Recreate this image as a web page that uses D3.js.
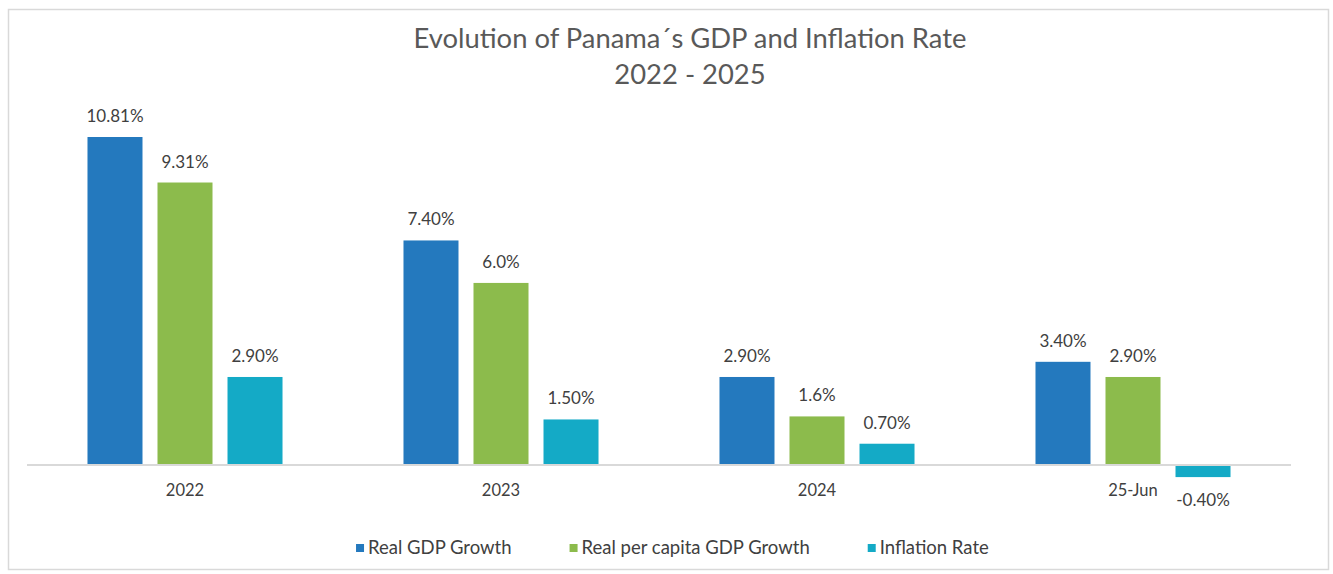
<!DOCTYPE html>
<html>
<head>
<meta charset="utf-8">
<script src="https://cdn.jsdelivr.net/npm/d3@7"></script>
<style>
  html, body { margin: 0; padding: 0; background: #ffffff; }
  svg { display: block; font-family: Lato, "Open Sans", sans-serif; }
</style>
</head>
<body>
<svg id="chart" width="1333" height="574"></svg>
<script>
// Categories and series
const categories = ["2022", "2023", "2024", "25-Jun"];
const seriesNames = ["Real GDP Growth", "Real per capita GDP Growth", "Inflation Rate"];
const seriesColors = ["#2479BE", "#8CBB4C", "#14AAC6"];

// Values in percent
const realGdpGrowth = [10.81, 7.40, 2.90, 3.40];
const perCapitaGrowth = [9.31, 6.0, 1.6, 2.90];
const inflationRate = [2.90, 1.50, 0.70, -0.40];

// Decimal places shown on each value label
const realGdpDecimals = [2, 2, 2, 2];
const perCapitaDecimals = [2, 1, 1, 2];
const inflationDecimals = [2, 2, 2, 2];

const titleLines = ["Evolution of Panama\u00b4s GDP and Inflation Rate", "2022 - 2025"];

const seriesValues = [realGdpGrowth, perCapitaGrowth, inflationRate];
const seriesDecimals = [realGdpDecimals, perCapitaDecimals, inflationDecimals];

const rows = [];
categories.forEach((cat, i) => {
  seriesNames.forEach((s, j) => {
    rows.push({ cat, series: s, si: j, value: seriesValues[j][i], dec: seriesDecimals[j][i] });
  });
});

const svg = d3.select("#chart");

// Chart frame
svg.append("rect")
  .attr("x", 8.5).attr("y", 9.5)
  .attr("width", 1320).attr("height", 560)
  .attr("fill", "#ffffff")
  .attr("stroke", "#d9d9d9")
  .attr("stroke-width", 1.5);

// Title
const title = svg.append("text")
  .attr("text-anchor", "middle")
  .attr("fill", "#595959")
  .attr("font-size", 27.4);
titleLines.forEach((t, i) => {
  title.append("tspan").attr("x", 690).attr("y", 48 + i * 36).text(t);
});

// Scales
const x0 = d3.scaleBand().domain(categories).range([27, 1291]).paddingInner(0).paddingOuter(0);
const x1 = d3.scaleBand().domain(seriesNames).range([0, x0.bandwidth()])
  .paddingInner(15 / 70).paddingOuter(0.864);
const y = d3.scaleLinear().domain([-1, 12]).range([495.3, 100.9]);
const color = d3.scaleOrdinal().domain(seriesNames).range(seriesColors);

// Percent label with a plain hyphen for negatives
const fmt = (v, d) => d3.format("." + d + "f")(v).replace("\u2212", "-") + "%";

// Bars
svg.append("g").selectAll("rect")
  .data(rows)
  .join("rect")
  .attr("x", d => x0(d.cat) + x1(d.series))
  .attr("width", x1.bandwidth())
  .attr("y", d => y(Math.max(0, d.value)))
  .attr("height", d => Math.abs(y(d.value) - y(0)))
  .attr("fill", d => color(d.series));

// Zero line
svg.append("line")
  .attr("x1", x0.range()[0]).attr("x2", x0.range()[1])
  .attr("y1", y(0)).attr("y2", y(0))
  .attr("stroke", "#d9d9d9").attr("stroke-width", 2);

// Category axis labels
const xAxis = d3.axisBottom(x0).tickSize(0).tickPadding(0);
const axisG = svg.append("g").attr("transform", `translate(0,${y(0)})`).call(xAxis);
axisG.select(".domain").remove();
axisG.selectAll("text")
  .attr("dy", null)
  .attr("y", 31)
  .attr("fill", "#404040")
  .attr("font-size", 16.5)
  .attr("font-family", "Lato, 'Open Sans', sans-serif");

// Value labels
svg.append("g").selectAll("text")
  .data(rows)
  .join("text")
  .attr("x", d => x0(d.cat) + x1(d.series) + x1.bandwidth() / 2)
  .attr("y", d => d.value >= 0 ? y(d.value) - 15 : y(d.value) + 29)
  .attr("text-anchor", "middle")
  .attr("fill", "#404040")
  .attr("font-size", 17)
  .text(d => fmt(d.value, d.dec));

// Legend
const legend = svg.append("g");
const items = legend.selectAll("g").data(seriesNames).join("g");
items.append("rect")
  .attr("width", 8).attr("height", 8)
  .attr("y", -10)
  .attr("fill", d => color(d));
items.append("text")
  .attr("x", 12)
  .attr("fill", "#404040")
  .attr("font-size", 18.5)
  .text(d => d);
const gap = 58;
const widths = [];
items.each(function () { widths.push(this.getBBox().width); });
const total = d3.sum(widths) + gap * (widths.length - 1);
let cx = 672.5 - total / 2;
items.attr("transform", (d, i) => {
  const t = `translate(${cx},554)`;
  cx += widths[i] + gap;
  return t;
});
</script>
</body>
</html>
